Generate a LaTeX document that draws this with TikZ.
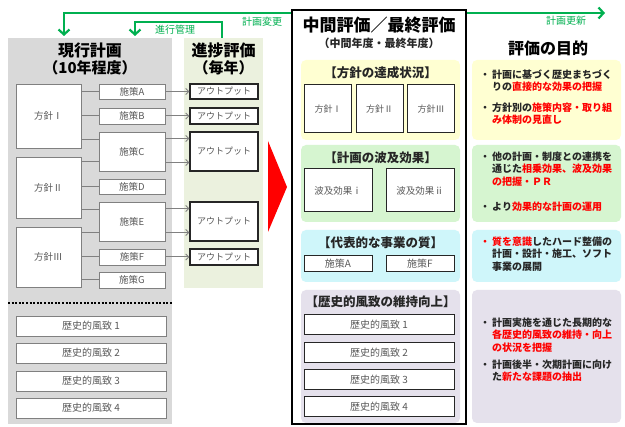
\documentclass[tikz,border=0pt]{standalone}
\usepackage{fontspec}
\setmainfont{Noto Sans CJK JP}
\usetikzlibrary{arrows.meta,calc}
\definecolor{panelgray}{HTML}{D9D9D9}
\definecolor{panelprog}{HTML}{EBF1DE}
\definecolor{panely}{HTML}{FFFFD2}
\definecolor{panelg}{HTML}{D6F5D0}
\definecolor{panelc}{HTML}{CFF6FA}
\definecolor{panell}{HTML}{E5E1EC}
\definecolor{arrowgreen}{HTML}{00B050}
\definecolor{boxgray}{HTML}{808080}
\definecolor{txtgray}{HTML}{595959}
\definecolor{txtdark}{HTML}{262626}
\definecolor{hired}{HTML}{FF0000}
\newcommand{\myfs}[1]{\fontsize{#1}{#1}\selectfont}
\newcommand{\hl}[1]{\textcolor{hired}{#1}}
\newcommand{\bulmark}{\vphantom{計}・}
\begin{document}
\begin{tikzpicture}[x=1pt,y=-1pt,
 panel/.style={draw=none,rounded corners=5pt,inner sep=0pt},
 sbox/.style={draw=boxgray,fill=white,line width=0.8pt,inner sep=0pt,font=\myfs{9.5},text=txtgray},
 obox/.style={draw=black!85,fill=white,line width=1.1pt,inner sep=0pt,font=\myfs{9},text=txtgray},
 mbox/.style={draw=black!85,fill=white,line width=1pt,inner sep=0pt,font=\myfs{9.5},text=txtgray},
 conn/.style={draw=boxgray,line width=1pt},
 oarrow/.style={draw=boxgray,line width=1pt,-{Straight Barb[length=3pt,width=6pt]}},
 garrow/.style={draw=arrowgreen,line width=2.2pt},
 glabel/.style={text=arrowgreen,font=\myfs{10},inner sep=0pt},
 ttl/.style={font=\bfseries\myfs{16},text=black,inner sep=0pt},
 hdr/.style={font=\bfseries\myfs{12.5},text=txtdark,inner sep=0pt},
 rtext/.style={font=\bfseries\fontsize{10}{12.4}\selectfont,text=txtdark,align=left,anchor=north west,inner sep=0pt},
 bul/.style={font=\bfseries\myfs{10},text=txtdark,anchor=north west,inner sep=0pt},
]
\useasboundingbox (0,0) rectangle (625,427);
\fill[white] (0,0) rectangle (625,427);

% ---- background panels ----
\node[panel,rounded corners=0pt,fill=panelgray,minimum width=164pt,minimum height=386pt] (pgray) at (90,231) {};
\node[panel,rounded corners=0pt,fill=panelprog,minimum width=79pt,minimum height=250pt] (pprog) at (223.5,163) {};

% ---- green arrows ----
\coordinate (ga) at (64,36);
\coordinate (gb) at (605,13);
\draw[garrow,{Straight Barb[length=5pt,width=11pt]}-{Straight Barb[length=5pt,width=11pt]}] (ga) |- (gb);
\coordinate (gc) at (222,38);
\coordinate (gd) at (135,36);
\draw[garrow,-{Straight Barb[length=5pt,width=11pt]}] (gc) -- ++(0,-16) -| (gd);
\node[glabel] (lbl1) at (262,22) {計画変更};
\node[glabel] (lbl2) at (175,30) {進行管理};
\node[glabel] (lbl3) at (566,21) {計画更新};

% ---- titles left ----
\node[ttl] (t1) at (90,50) {現行計画};
\node[ttl,font=\bfseries\myfs{15}] (t1b) at (90,68) {（10年程度）};
\node[ttl] (t2) at (223.5,50) {進捗評価};
\node[ttl,font=\bfseries\myfs{15}] (t2b) at (223.5,68) {（毎年）};

% ---- policy boxes ----
\node[sbox,minimum width=65pt,minimum height=64pt] (h1) at (48.5,116) {方針Ⅰ};
\node[sbox,minimum width=65pt,minimum height=61pt] (h2) at (48.5,187.5) {方針Ⅱ};
\node[sbox,minimum width=65pt,minimum height=60pt] (h3) at (48.5,257) {方針Ⅲ};

% ---- measures ----
\node[sbox,minimum width=66pt,minimum height=15pt] (sa) at (132,91.5) {施策A};
\node[sbox,minimum width=66pt,minimum height=16pt] (sb) at (132,116) {施策B};
\node[sbox,minimum width=66pt,minimum height=39pt] (sc) at (132,151.5) {施策C};
\node[sbox,minimum width=66pt,minimum height=15pt] (sd) at (132,186.5) {施策D};
\node[sbox,minimum width=66pt,minimum height=39pt] (se) at (132,221.5) {施策E};
\node[sbox,minimum width=66pt,minimum height=16pt] (sf) at (132,257) {施策F};
\node[sbox,minimum width=66pt,minimum height=16pt] (sg) at (132,280) {施策G};

% ---- outputs ----
\node[obox,minimum width=68pt,minimum height=15pt] (oa) at (224,91.5) {アウトプット};
\node[obox,minimum width=68pt,minimum height=16pt] (ob) at (224,116) {アウトプット};
\node[obox,minimum width=68pt,minimum height=39pt] (oc) at (224,151.5) {アウトプット};
\node[obox,minimum width=68pt,minimum height=39pt] (oe) at (224,221.5) {アウトプット};
\node[obox,minimum width=68pt,minimum height=16pt] (of) at (224,257) {アウトプット};

% ---- policy -> measure connectors ----
\coordinate (c1) at ($(sc.west)+(0,-11.5)$);
\coordinate (c2) at ($(sc.west)+(0,10.5)$);
\coordinate (c3) at ($(se.west)+(0,-11.5)$);
\coordinate (c4) at ($(se.west)+(0,11.5)$);
\draw[conn] (h1.east |- sa.west) -- (sa.west);
\draw[conn] (h1.east |- sb.west) -- (sb.west);
\draw[conn] (h1.east |- c1) -- (c1);
\draw[conn] (h2.east |- c2) -- (c2);
\draw[conn] (h2.east |- sd.west) -- (sd.west);
\draw[conn] (h2.east |- c3) -- (c3);
\draw[conn] (h3.east |- c4) -- (c4);
\draw[conn] (h3.east |- sf.west) -- (sf.west);
\draw[conn] (h3.east |- sg.west) -- (sg.west);

% ---- measure -> output arrows ----
\coordinate (d1) at ($(sc.east)+(0,-13)$);
\coordinate (d2) at ($(sc.east)+(0,11)$);
\coordinate (d3) at ($(se.east)+(0,-13)$);
\coordinate (d4) at ($(se.east)+(0,11)$);
\draw[oarrow] (sa.east) -- (oa.west);
\draw[oarrow] (sb.east) -- (ob.west);
\draw[oarrow] (d1) -- (d1 -| oc.west);
\draw[oarrow] (d2) -- (d2 -| oc.west);
\draw[oarrow] (d3) -- (d3 -| oe.west);
\draw[oarrow] (d4) -- (d4 -| oe.west);
\draw[oarrow] (sf.east) -- (of.west);

% ---- dotted separator ----
\draw[line width=2pt,dash pattern=on 2pt off 1.6pt] (8,303) -- (172,303);

% ---- historic scenery (left) ----
\node[sbox,font=\myfs{10},minimum width=150pt,minimum height=20pt] (l1) at (91,326) {歴史的風致 1};
\node[sbox,font=\myfs{10},minimum width=150pt,minimum height=20pt] (l2) at (91,353) {歴史的風致 2};
\node[sbox,font=\myfs{10},minimum width=150pt,minimum height=20pt] (l3) at (91,381) {歴史的風致 3};
\node[sbox,font=\myfs{10},minimum width=150pt,minimum height=20pt] (l4) at (91,408) {歴史的風致 4};

% ---- red triangle ----
\fill[hired] (268,141) -- (287,187) -- (268,232) -- cycle;

% ---- big evaluation box ----
\node[draw=black,fill=white,line width=2pt,minimum width=174pt,minimum height=414pt,inner sep=0pt] (big) at (379,217) {};
\node[ttl,font=\bfseries\myfs{17}] (t3) at (379,25) {中間評価／最終評価};
\node[ttl,font=\bfseries\myfs{11},text=txtdark] (t3b) at (379,43) {（中間年度・最終年度）};

\node[panel,fill=panely,minimum width=159pt,minimum height=80pt] (py) at (380.5,100) {};
\node[hdr] (hy) at (380.5,73) {【方針の達成状況】};
\node[mbox,font=\myfs{9},minimum width=47pt,minimum height=48pt] (m1) at (328,109) {方針Ⅰ};
\node[mbox,font=\myfs{9},minimum width=47pt,minimum height=48pt] (m2) at (379.5,109) {方針Ⅱ};
\node[mbox,font=\myfs{9},minimum width=47pt,minimum height=48pt] (m3) at (431,109) {方針Ⅲ};

\node[panel,fill=panelg,minimum width=159pt,minimum height=77pt] (pg) at (380.5,183.5) {};
\node[hdr] (hg) at (380.5,158) {【計画の波及効果】};
\node[mbox,minimum width=68pt,minimum height=43pt] (w1) at (338,190.5) {波及効果ⅰ};
\node[mbox,minimum width=68pt,minimum height=43pt] (w2) at (420,190.5) {波及効果ⅱ};

\node[panel,fill=panelc,minimum width=159pt,minimum height=52pt] (pc) at (380.5,256) {};
\node[hdr] (hc) at (380.5,243) {【代表的な事業の質】};
\node[mbox,font=\myfs{10},minimum width=68pt,minimum height=16pt] (q1) at (338,264) {施策A};
\node[mbox,font=\myfs{10},minimum width=68pt,minimum height=16pt] (q2) at (420,264) {施策F};

\node[panel,fill=panell,minimum width=159pt,minimum height=133pt] (pl) at (380.5,356.5) {};
\node[hdr] (hl) at (380.5,302) {【歴史的風致の維持向上】};
\node[mbox,font=\myfs{10},minimum width=150pt,minimum height=20pt] (r1) at (379,325) {歴史的風致 1};
\node[mbox,font=\myfs{10},minimum width=150pt,minimum height=20pt] (r2) at (379,353) {歴史的風致 2};
\node[mbox,font=\myfs{10},minimum width=150pt,minimum height=20pt] (r3) at (379,380) {歴史的風致 3};
\node[mbox,font=\myfs{10},minimum width=150pt,minimum height=20pt] (r4) at (379,407) {歴史的風致 4};

% ---- right column ----
\node[ttl] (t4) at (548,48) {評価の目的};
\node[panel,fill=panely,minimum width=149pt,minimum height=80pt] (qy) at (546.5,100) {};
\node[panel,fill=panelg,minimum width=149pt,minimum height=77pt] (qg) at (546.5,183.5) {};
\node[panel,fill=panelc,minimum width=149pt,minimum height=52pt] (qc) at (546.5,256) {};
\node[panel,fill=panell,minimum width=149pt,minimum height=133pt] (ql) at (546.5,356.5) {};

\node[bul] (by1) at (480,69.5) {\bulmark};
\node[rtext] (ty1) at (492,69.5) {計画に基づく歴史まちづく\\りの\hl{直接的な効果の把握}};
\node[bul] (by2) at (480,102.5) {\bulmark};
\node[rtext] (ty2) at (492,102.5) {方針別の\hl{施策内容・取り組}\\\hl{み体制の見直し}};

\node[bul] (bg1) at (480,151.5) {\bulmark};
\node[rtext] (tg1) at (492,151.5) {他の計画・制度との連携を\\通じた\hl{相乗効果、波及効果}\\\hl{の把握・ＰＲ}};
\node[bul] (bg2) at (480,201.5) {\bulmark};
\node[rtext] (tg2) at (492,201.5) {より\hl{効果的な計画の運用}};

\node[bul,text=hired] (bc1) at (480,236.5) {\bulmark};
\node[rtext] (tc1) at (492,236.5) {\hl{質を意識}したハード整備の\\計画・設計・施工、ソフト\\事業の展開};

\node[bul] (bl1) at (480,317.5) {\bulmark};
\node[rtext] (tl1) at (492,317.5) {計画実施を通じた長期的な\\\hl{各歴史的風致の維持・向上}\\\hl{の状況を把握}};
\node[bul] (bl2) at (480,359.5) {\bulmark};
\node[rtext] (tl2) at (492,359.5) {計画後半・次期計画に向け\\た\hl{新たな課題の抽出}};
\end{tikzpicture}
\end{document}
